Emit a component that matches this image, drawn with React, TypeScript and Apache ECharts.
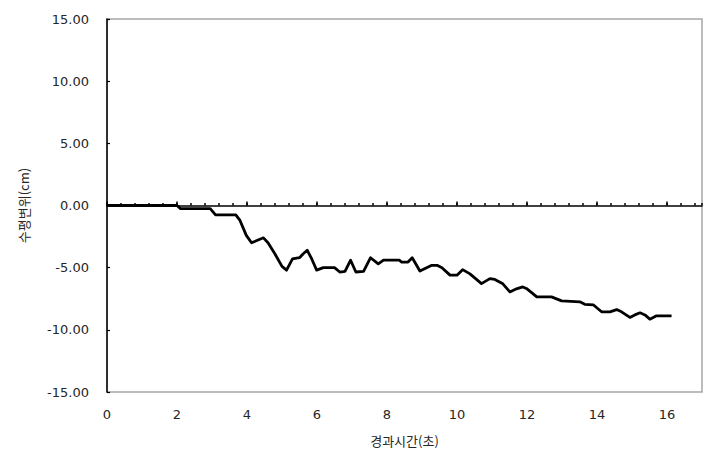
import { useEffect, useRef } from "react";
import * as echarts from "echarts";

// elapsed time (s) and horizontal displacement (cm)
const timeSec = [
    0, 2.0, 2.1, 2.95, 3.1, 3.68, 3.8, 3.98, 4.13, 4.3, 4.47, 4.6, 4.8, 5.0, 5.13,
    5.3, 5.5, 5.6, 5.72, 5.85, 5.99, 6.18, 6.5, 6.65, 6.8, 6.96, 7.11, 7.33, 7.53,
    7.75, 7.9, 8.35, 8.42, 8.6, 8.72, 8.94, 9.28, 9.43, 9.57, 9.8, 10.0, 10.16,
    10.37, 10.7, 10.94, 11.08, 11.31, 11.51, 11.7, 11.88, 12.0, 12.28, 12.7, 12.99,
    13.51, 13.65, 13.9, 14.13, 14.37, 14.56, 14.7, 14.94, 15.08, 15.23, 15.37,
    15.51, 15.7, 16.13,
];
const dispCm = [
    0, 0, -0.25, -0.25, -0.75, -0.75, -1.2, -2.4, -3.0, -2.8, -2.6, -3.0, -3.9,
    -4.9, -5.2, -4.3, -4.2, -3.9, -3.6, -4.3, -5.2, -5.0, -5.0, -5.35, -5.3, -4.4,
    -5.35, -5.3, -4.2, -4.7, -4.4, -4.4, -4.55, -4.55, -4.2, -5.27, -4.81, -4.81,
    -5.0, -5.6, -5.6, -5.16, -5.5, -6.28, -5.88, -5.95, -6.3, -6.95, -6.7, -6.55,
    -6.7, -7.35, -7.35, -7.67, -7.75, -7.95, -8.0, -8.55, -8.55, -8.37, -8.55,
    -9.0, -8.8, -8.63, -8.8, -9.14, -8.87, -8.87,
];
const majorTicks = [0, 2, 4, 6, 8, 10, 12, 14, 16];

const xMin = 0;
const xMax = 17;
const yMin = -15;
const yMax = 15;

export default function App() {
    const containerRef = useRef<HTMLDivElement | null>(null);

    useEffect(() => {
        if (!containerRef.current) return;
        const chart = echarts.init(containerRef.current, undefined, { renderer: "svg" });

        const numFont = { fontFamily: "DejaVu Sans", fontSize: 13, color: "#262626" };
        const nameFont = { fontFamily: "Noto Sans CJK KR", fontSize: 13, color: "#262626" };
        const rect = { left: 107, right: 16, top: 19, bottom: 74 };
        const hiddenY = (gridIndex: number) => ({
            type: "value" as const,
            gridIndex,
            min: yMin,
            max: yMax,
            show: false,
        });

        const option: echarts.EChartsOption = {
            animation: false,
            backgroundColor: "#fff",
            // three identical grids: main plot, bottom labels, minor ticks on the zero line
            grid: [
                { ...rect, show: true, borderColor: "#a6a6a6", borderWidth: 1.5, backgroundColor: "transparent" },
                { ...rect },
                { ...rect },
            ],
            xAxis: [
                {
                    gridIndex: 0,
                    type: "value",
                    min: xMin,
                    max: xMax,
                    interval: 2,
                    axisLine: { show: true, onZero: true, lineStyle: { color: "#000", width: 1.5 } },
                    axisTick: {
                        show: true,
                        inside: true,
                        length: 4,
                        customValues: majorTicks,
                        lineStyle: { color: "#000", width: 1.5 },
                    },
                    axisLabel: { show: false },
                    splitLine: { show: false },
                },
                {
                    gridIndex: 1,
                    type: "value",
                    min: xMin,
                    max: xMax,
                    interval: 2,
                    position: "bottom",
                    axisLine: { show: false, onZero: false },
                    axisTick: { show: false },
                    splitLine: { show: false },
                    axisLabel: {
                        ...numFont,
                        margin: 16,
                        formatter: (v: number) => (v === xMax ? "" : String(v)),
                    },
                    name: "경과시간(초)",
                    nameLocation: "middle",
                    nameGap: 42,
                    nameTextStyle: nameFont,
                },
                {
                    gridIndex: 2,
                    type: "value",
                    min: xMin,
                    max: xMax,
                    interval: 0.4,
                    axisLine: { show: false, onZero: true },
                    axisTick: { show: true, inside: true, length: 2.5, lineStyle: { color: "#000", width: 1.5 } },
                    axisLabel: { show: false },
                    splitLine: { show: false },
                },
            ],
            yAxis: [
                {
                    gridIndex: 0,
                    type: "value",
                    min: yMin,
                    max: yMax,
                    interval: 5,
                    axisLine: { show: true, lineStyle: { color: "#000", width: 1.5 } },
                    axisTick: { show: true, inside: true, length: 3, lineStyle: { color: "#000", width: 1.2 } },
                    splitLine: { show: false },
                    axisLabel: {
                        ...numFont,
                        margin: 18,
                        formatter: (v: number) => v.toFixed(2),
                    },
                    name: "수평변위(cm)",
                    nameLocation: "middle",
                    nameGap: 77,
                    nameTextStyle: nameFont,
                },
                hiddenY(1),
                hiddenY(2),
            ],
            series: [
                {
                    type: "line",
                    xAxisIndex: 0,
                    yAxisIndex: 0,
                    data: timeSec.map((t, i) => [t, dispCm[i]]),
                    showSymbol: false,
                    smooth: false,
                    lineStyle: { color: "#000", width: 2.8, join: "round" },
                    z: 5,
                },
            ],
        };

        chart.setOption(option);
        return () => chart.dispose();
    }, []);

    return (
        <div
            ref={containerRef}
            style={{ position: "fixed", left: 0, top: 0, width: 718, height: 466 }}
        />
    );
}
